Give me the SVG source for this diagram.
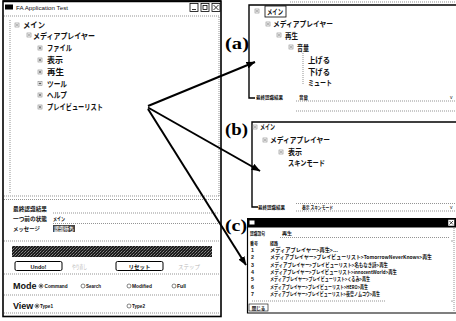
<svg xmlns="http://www.w3.org/2000/svg" xmlns:xlink="http://www.w3.org/1999/xlink" width="456" height="321" viewBox="0 0 456 321">
  <style>
    .jp { font-family: "Noto Sans CJK JP", "Liberation Sans", sans-serif; fill: #111; }
    .b { font-weight: 700; }
    .lat { font-family: "Liberation Sans", Arial, sans-serif; fill: #111; }
    .lbl { font-family: "Liberation Serif", "Times New Roman", serif; font-weight: 700; font-size: 16px; fill: #000; }
    .dot { stroke: #666; stroke-width: 0.7; stroke-dasharray: 1 1; fill: none; }
    .frame { stroke: #000; fill: none; }
    .faint { fill: #b8b8b8; }
    .conn { stroke: #000; stroke-width: 2; fill: none; marker-end: url(#arrow); }
  </style>
  <defs>
    <marker id="arrow" markerWidth="9" markerHeight="7" refX="8.5" refY="3.5" orient="auto" markerUnits="userSpaceOnUse">
      <path d="M0,0 L9,3.5 L0,7 z" fill="#000"/>
    </marker>
    <!-- tree expander glyphs -->
    <g id="tw-open">
      <rect x="-2" y="-2" width="4" height="4" fill="none" stroke="#888" stroke-width="0.6"/>
      <line x1="-1.2" y1="0" x2="1.2" y2="0" stroke="#333" stroke-width="0.7"/>
    </g>
    <g id="tw-closed">
      <rect x="-2" y="-2" width="4" height="4" fill="none" stroke="#888" stroke-width="0.6"/>
      <line x1="-1.2" y1="0" x2="1.2" y2="0" stroke="#333" stroke-width="0.7"/>
      <line x1="0" y1="-1.2" x2="0" y2="1.2" stroke="#333" stroke-width="0.7"/>
    </g>
    <pattern id="grain" width="3" height="3" patternUnits="userSpaceOnUse">
      <rect width="3" height="3" fill="#1c1c1c"/>
      <rect x="0" y="0" width="1" height="1" fill="#7a7a7a"/>
      <rect x="2" y="1" width="1" height="1" fill="#555"/>
      <rect x="1" y="2" width="1" height="1" fill="#888"/>
    </pattern>
  </defs>

  <rect width="456" height="321" fill="#fff"/>

  <!-- main application window -->
  <g id="app-window">
    <rect x="3" y="1" width="218" height="315.5" class="frame" stroke-width="1.6"/>
    <line x1="3" y1="1.2" x2="221" y2="1.2" stroke="#000" stroke-width="2"/>
    <rect x="5" y="4.5" width="8" height="5" fill="#000"/>
    <text x="16" y="10" class="lat" font-size="5.5" fill="#444" textLength="52" lengthAdjust="spacingAndGlyphs">FA Application Test</text>
    <!-- caption buttons -->
    <g stroke="#000" stroke-width="0.8" fill="none">
      <rect x="190" y="3.5" width="8" height="8"/>
      <line x1="192" y1="9.5" x2="196" y2="9.5"/>
      <rect x="201" y="3.5" width="8" height="8"/>
      <rect x="203" y="5.5" width="4" height="4"/>
      <rect x="212" y="3.5" width="8" height="8"/>
      <path d="M213.5,5 L218.5,10 M218.5,5 L213.5,10"/>
    </g>
    <line x1="4" y1="16" x2="220" y2="16" class="dot"/>
    <line x1="219" y1="17" x2="219" y2="196" class="dot"/>
    <line x1="10" y1="20" x2="10" y2="194" class="dot" stroke="#bbb"/>

    <!-- command tree -->
    <use href="#tw-open" x="17" y="25"/>
    <text x="23" y="28" class="jp b" font-size="8" textLength="22" lengthAdjust="spacingAndGlyphs">メイン</text>
    <use href="#tw-open" x="29" y="35"/>
    <text x="33" y="38.5" class="jp b" font-size="8" textLength="62" lengthAdjust="spacingAndGlyphs">メディアプレイヤー</text>
    <use href="#tw-closed" x="40" y="48"/>
    <text x="47" y="51" class="jp b" font-size="8" textLength="25" lengthAdjust="spacingAndGlyphs">ファイル</text>
    <use href="#tw-closed" x="40" y="60"/>
    <text x="47" y="63" class="jp b" font-size="8" textLength="16" lengthAdjust="spacingAndGlyphs">表示</text>
    <use href="#tw-closed" x="40" y="72"/>
    <text x="47" y="75" class="jp b" font-size="8" textLength="17" lengthAdjust="spacingAndGlyphs">再生</text>
    <use href="#tw-closed" x="40" y="83.5"/>
    <text x="47" y="86.5" class="jp b" font-size="8" textLength="20" lengthAdjust="spacingAndGlyphs">ツール</text>
    <use href="#tw-closed" x="40" y="95"/>
    <text x="47" y="98" class="jp b" font-size="8" textLength="20" lengthAdjust="spacingAndGlyphs">ヘルプ</text>
    <use href="#tw-closed" x="40" y="107"/>
    <text x="47" y="110" class="jp b" font-size="8" textLength="56" lengthAdjust="spacingAndGlyphs">プレイビューリスト</text>

    <line x1="4" y1="196" x2="220" y2="196" class="dot"/>
    <line x1="4" y1="199.5" x2="220" y2="199.5" class="dot" stroke="#aaa"/>

    <!-- status area -->
    <text x="13" y="211" class="jp b" font-size="5.7" textLength="34" lengthAdjust="spacingAndGlyphs">最終認識結果</text>
    <line x1="53" y1="213" x2="219" y2="213" class="dot"/>
    <text x="13" y="221" class="jp b" font-size="5.7" textLength="34" lengthAdjust="spacingAndGlyphs">一つ前の状態</text>
    <text x="53" y="221" class="jp b" font-size="5.7" textLength="12" lengthAdjust="spacingAndGlyphs">メイン</text>
    <line x1="53" y1="223.5" x2="219" y2="223.5" class="dot"/>
    <text x="13" y="230.5" class="jp b" font-size="5.7" textLength="27" lengthAdjust="spacingAndGlyphs">メッセージ</text>
    <rect x="53" y="225" width="22" height="7" fill="#444"/>
    <text x="54" y="231" class="jp b" font-size="5.7" style="fill:#eee" textLength="20" lengthAdjust="spacingAndGlyphs">認識待ち</text>
    <line x1="4" y1="241" x2="219" y2="241" class="dot"/>
    <rect x="12" y="246" width="200" height="11" fill="url(#grain)"/>

    <!-- buttons -->
    <rect x="15" y="261.5" width="47" height="9" rx="1.5" fill="#fff" stroke="#000" stroke-width="1"/>
    <text x="38.5" y="268.5" class="lat b" font-size="5.5" text-anchor="middle">Undo!</text>
    <text x="72" y="268.5" class="jp faint" font-size="5.5" textLength="15" lengthAdjust="spacingAndGlyphs">やり直し</text>
    <rect x="116" y="261.5" width="47" height="9" rx="1.5" fill="#fff" stroke="#000" stroke-width="1"/>
    <text x="139.5" y="268.5" class="jp b" font-size="5.5" text-anchor="middle">リセット</text>
    <text x="178" y="268.5" class="jp faint" font-size="5.5" textLength="22" lengthAdjust="spacingAndGlyphs">ステップ</text>
    <line x1="4" y1="274" x2="219" y2="274" class="dot"/>

    <!-- mode selector -->
    <text x="13" y="289" class="lat b" font-size="9">Mode</text>
    <circle cx="41" cy="286" r="2" fill="#fff" stroke="#333" stroke-width="0.6"/>
    <circle cx="41" cy="286" r="0.9" fill="#000"/>
    <text x="44.5" y="288" class="lat b" font-size="5.5" textLength="23" lengthAdjust="spacingAndGlyphs">Command</text>
    <circle cx="83" cy="286" r="2" fill="#fff" stroke="#333" stroke-width="0.6"/>
    <text x="86" y="288" class="lat b" font-size="5" textLength="15" lengthAdjust="spacingAndGlyphs">Search</text>
    <circle cx="129" cy="286" r="2" fill="#fff" stroke="#333" stroke-width="0.6"/>
    <text x="132" y="288" class="lat b" font-size="5" textLength="20" lengthAdjust="spacingAndGlyphs">Modified</text>
    <circle cx="174" cy="286" r="2" fill="#fff" stroke="#333" stroke-width="0.6"/>
    <text x="177" y="288" class="lat b" font-size="5" textLength="9" lengthAdjust="spacingAndGlyphs">Full</text>
    <line x1="4" y1="295" x2="219" y2="295" class="dot"/>

    <!-- view selector -->
    <text x="13" y="309" class="lat b" font-size="9">View</text>
    <circle cx="37" cy="306" r="2" fill="#fff" stroke="#333" stroke-width="0.6"/>
    <circle cx="37" cy="306" r="0.9" fill="#000"/>
    <text x="40" y="308" class="lat b" font-size="5" textLength="13" lengthAdjust="spacingAndGlyphs">Type1</text>
    <circle cx="129" cy="306" r="2" fill="#fff" stroke="#333" stroke-width="0.6"/>
    <text x="132" y="308" class="lat b" font-size="5" textLength="13" lengthAdjust="spacingAndGlyphs">Type2</text>
    <line x1="4" y1="313" x2="219" y2="313" class="dot"/>
  </g>

  <!-- panel (a): volume branch expanded -->
  <g id="panel-a">
    <line x1="290" y1="2" x2="456" y2="2" class="dot" stroke="#aaa"/>
    <path d="M456,5 H249 V98 H255" class="frame" stroke-width="1.4"/>
    <use href="#tw-open" x="257" y="11"/>
    <rect x="265" y="6" width="21" height="11" fill="none" stroke="#000" stroke-width="0.8"/>
    <text x="267" y="14.5" class="jp b" font-size="7.5" textLength="16" lengthAdjust="spacingAndGlyphs">メイン</text>
    <use href="#tw-open" x="268" y="24"/>
    <text x="273" y="27" class="jp b" font-size="7.5" textLength="60" lengthAdjust="spacingAndGlyphs">メディアプレイヤー</text>
    <use href="#tw-open" x="279" y="35"/>
    <text x="285" y="38.5" class="jp b" font-size="7.5" textLength="13" lengthAdjust="spacingAndGlyphs">再生</text>
    <use href="#tw-open" x="291" y="47"/>
    <text x="297" y="50.5" class="jp b" font-size="7.5" textLength="12" lengthAdjust="spacingAndGlyphs">音量</text>
    <line x1="303" y1="53" x2="303" y2="85" class="dot" stroke="#999" stroke-dasharray="0.8 2"/>
    <text x="308" y="63" class="jp b" font-size="7.5" textLength="22" lengthAdjust="spacingAndGlyphs">上げる</text>
    <text x="308" y="74.5" class="jp b" font-size="7.5" textLength="22" lengthAdjust="spacingAndGlyphs">下げる</text>
    <text x="308" y="86" class="jp b" font-size="7.5" textLength="24" lengthAdjust="spacingAndGlyphs">ミュート</text>
    <text x="256" y="99" class="jp b" font-size="5" textLength="27" lengthAdjust="spacingAndGlyphs">最終認識結果</text>
    <text x="299" y="99" class="jp b" font-size="5" textLength="9" lengthAdjust="spacingAndGlyphs">音量</text>
    <text x="450" y="99" class="lat" font-size="5">v</text>
    <line x1="296" y1="101" x2="455" y2="101" class="dot"/>
    <line x1="296" y1="111" x2="456" y2="111" class="dot"/>
  </g>

  <!-- panel (b): display branch expanded -->
  <g id="panel-b">
    <path d="M456,122 H252 V207 H258" class="frame" stroke-width="1.4"/>
    <use href="#tw-open" x="255" y="127"/>
    <text x="260" y="130" class="jp b" font-size="7.5" textLength="15" lengthAdjust="spacingAndGlyphs">メイン</text>
    <use href="#tw-open" x="265" y="140"/>
    <text x="270" y="143" class="jp b" font-size="7.5" textLength="60" lengthAdjust="spacingAndGlyphs">メディアプレイヤー</text>
    <use href="#tw-open" x="281" y="152"/>
    <text x="288" y="155" class="jp b" font-size="7.5" textLength="14" lengthAdjust="spacingAndGlyphs">表示</text>
    <text x="288" y="166" class="jp b" font-size="7.5" textLength="37" lengthAdjust="spacingAndGlyphs">スキンモード</text>
    <line x1="296" y1="203.5" x2="456" y2="203.5" class="dot" stroke="#aaa"/>
    <text x="258" y="209" class="jp b" font-size="5" textLength="27" lengthAdjust="spacingAndGlyphs">最終認識結果</text>
    <text x="302" y="209" class="jp b" font-size="5" textLength="31" lengthAdjust="spacingAndGlyphs">表示 スキンモード</text>
    <text x="450" y="209" class="lat" font-size="5">v</text>
    <line x1="296" y1="211" x2="456" y2="211" class="dot"/>
  </g>

  <!-- panel (c): recognition history window -->
  <g id="panel-c">
    <rect x="247" y="218" width="209" height="9.5" fill="#000"/>
    <rect x="249.5" y="220.5" width="5" height="4" fill="#fff"/>
    <rect x="448" y="219.5" width="6.5" height="6.5" fill="#fff" stroke="#000" stroke-width="0.5"/>
    <path d="M449.5,221 L453,224.5 M453,221 L449.5,224.5" stroke="#000" stroke-width="0.7"/>
    <path d="M247.5,227 V313 H456" class="frame" stroke-width="1.2"/>
    <line x1="454" y1="228" x2="454" y2="312" class="dot" stroke="#bbb"/>
    <text x="250" y="235" class="jp b" font-size="5" textLength="15" lengthAdjust="spacingAndGlyphs">認識語句</text>
    <text x="282" y="235" class="jp b" font-size="5" textLength="10" lengthAdjust="spacingAndGlyphs">再生</text>
    <line x1="280" y1="237.5" x2="450" y2="237.5" class="dot" stroke="#aaa"/>
    <text x="250" y="245" class="jp b" font-size="5" textLength="8" lengthAdjust="spacingAndGlyphs">番号</text>
    <text x="270" y="245" class="jp b" font-size="5" textLength="8" lengthAdjust="spacingAndGlyphs">経路</text>
    <g class="lat b" font-size="5.3">
      <text x="251" y="252">1</text>
      <text x="251" y="259.3">2</text>
      <text x="251" y="266.6">3</text>
      <text x="251" y="274">4</text>
      <text x="251" y="281.3">5</text>
      <text x="251" y="288.6">6</text>
      <text x="251" y="296">7</text>
    </g>
    <g class="jp b" font-size="5.3">
      <text x="270" y="252" textLength="68" lengthAdjust="spacingAndGlyphs">メディアプレイヤー&gt;再生&gt;...</text>
      <text x="270" y="259.3" textLength="162" lengthAdjust="spacingAndGlyphs">メディアプレイヤー&gt;プレイビューリスト&gt;TomorrowNeverKnows&gt;再生</text>
      <text x="270" y="266.6" textLength="118" lengthAdjust="spacingAndGlyphs">メディアプレイヤー&gt;プレイビューリスト&gt;名もなき詩&gt;再生</text>
      <text x="270" y="274" textLength="127" lengthAdjust="spacingAndGlyphs">メディアプレイヤー&gt;プレイビューリスト&gt;innocentWorld&gt;再生</text>
      <text x="270" y="281.3" textLength="100" lengthAdjust="spacingAndGlyphs">メディアプレイヤー&gt;プレイビューリスト&gt;くるみ&gt;再生</text>
      <text x="270" y="288.6" textLength="98" lengthAdjust="spacingAndGlyphs">メディアプレイヤー&gt;プレイビューリスト&gt;HERO&gt;再生</text>
      <text x="270" y="296" textLength="110" lengthAdjust="spacingAndGlyphs">メディアプレイヤー&gt;プレイビューリスト&gt;夜空ノムコウ&gt;再生</text>
    </g>
    <line x1="252" y1="301" x2="385" y2="301" class="dot" stroke="#bbb" stroke-dasharray="1 2"/>
    <rect x="249" y="304" width="19" height="7" fill="#fff" stroke="#000" stroke-width="0.6"/>
    <text x="258.5" y="309.5" class="jp b" font-size="4.5" text-anchor="middle">閉じる</text>
    <line x1="451" y1="241" x2="453" y2="241" stroke="#666" stroke-width="0.6"/>
    <circle cx="452" cy="301" r="0.6" fill="#444"/>
  </g>

  <!-- panel labels -->
  <g id="labels">
    <text x="225" y="49" class="lbl" textLength="24" lengthAdjust="spacingAndGlyphs">(a)</text>
    <text x="225" y="135" class="lbl" textLength="23" lengthAdjust="spacingAndGlyphs">(b)</text>
    <text x="225" y="231" class="lbl" textLength="22" lengthAdjust="spacingAndGlyphs">(c)</text>
  </g>

  <!-- connectors from the playlist item to each view -->
  <g id="connectors">
    <line x1="148" y1="106" x2="255" y2="62" class="conn"/>
    <line x1="148" y1="107.5" x2="260" y2="171" class="conn"/>
    <line x1="148" y1="109" x2="246" y2="265" class="conn"/>
  </g>
</svg>
